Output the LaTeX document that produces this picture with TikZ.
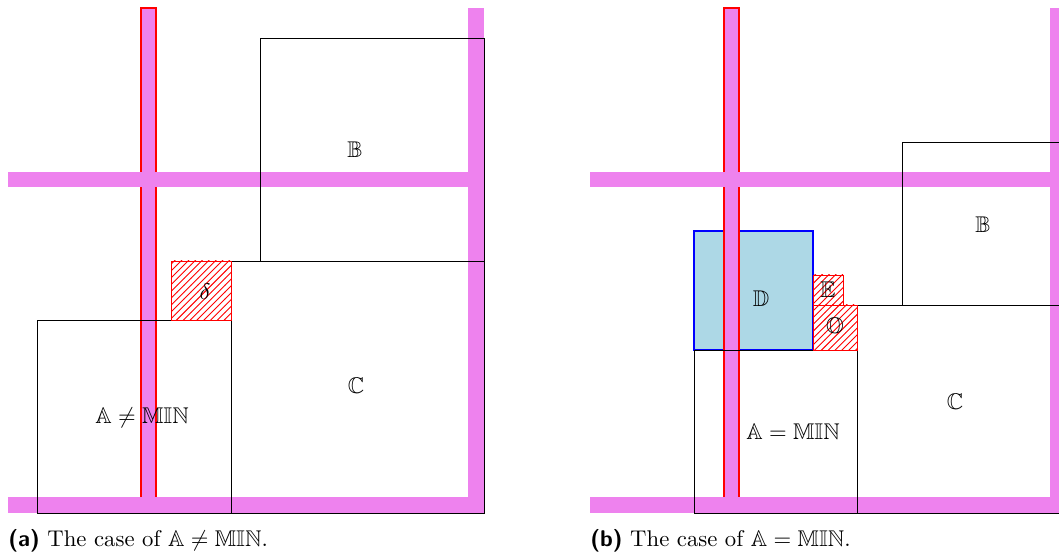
\documentclass[tikz,border=0pt]{standalone}
\usepackage{amssymb}
\usepackage{xcolor}
\usepackage{tikz}
\usetikzlibrary{patterns}

\definecolor{barviolet}{RGB}{238,130,238}
\definecolor{dfill}{RGB}{173,216,230}

\begin{document}
\begin{tikzpicture}[
    x=0.44pt, y=-0.44pt,
    bar/.style={fill=barviolet,draw=none},
    redbar/.style={fill=barviolet,draw=red,line width=0.5pt},
    sq/.style={draw=black,line width=0.4pt},
    hatch/.style={draw=red,pattern=north east lines,pattern color=red,line width=0.4pt},
    dbox/.style={fill=dfill,draw=blue,line width=0.6pt},
    lbl/.style={inner sep=1pt,font=\normalsize}
]
\useasboundingbox (0,0) rectangle (1059,558);
\clip (0,0) rectangle (1059,558);

% (a) left panel
\draw[redbar] (141,8) rectangle (156,513);
\draw[bar] (8,172) rectangle (484,187);
\draw[bar] (468,8) rectangle (484,513);
\draw[bar] (8,497) rectangle (484,513);
\draw[sq] (260,38) rectangle (484,261);
\draw[sq] (231,261) rectangle (484,513);
\draw[sq] (37,320) rectangle (231,513);
\draw[hatch] (171,261) rectangle (231,320);
\node[lbl] (bA) at (355,150) {$\mathbb{B}$};
\node[lbl] (cA) at (356,386) {$\mathbb{C}$};
\node[lbl] (dA) at (205,292) {$\delta$};
\node[lbl] (aA) at (142,418) {$\mathbb{A}\neq\mathbb{MIN}$};
\node[anchor=west,inner sep=0pt] (capA) at (8,541)
    {\textsf{\textbf{(a)}} The case of $\mathbb{A}\neq\mathbb{MIN}$.};

% (b) right panel
\draw[dbox] (694,231) rectangle (813,350);
\draw[redbar] (724,8) rectangle (739,513);
\draw[bar] (590,172) rectangle (1070,187);
\draw[bar] (1050,8) rectangle (1070,513);
\draw[bar] (590,497) rectangle (1070,513);
\draw[sq] (902,142) rectangle (1070,305);
\draw[sq] (857,305) rectangle (1070,513);
\draw[sq] (694,350) rectangle (857,513);
\draw[hatch] (813,275) rectangle (843,305);
\draw[hatch] (813,305) rectangle (857,350);
\node[lbl] (bB) at (983,225) {$\mathbb{B}$};
\node[lbl] (cB) at (955,402) {$\mathbb{C}$};
\node[lbl] (dB) at (761,299) {$\mathbb{D}$};
\node[lbl] (eB) at (828,290) {$\mathbb{E}$};
\node[lbl] (oB) at (835,328) {$\mathbb{O}$};
\node[lbl] (aB) at (793,432) {$\mathbb{A}=\mathbb{MIN}$};
\node[anchor=west,inner sep=0pt] (capB) at (590,541)
    {\textsf{\textbf{(b)}} The case of $\mathbb{A}=\mathbb{MIN}$.};
\end{tikzpicture}
\end{document}
